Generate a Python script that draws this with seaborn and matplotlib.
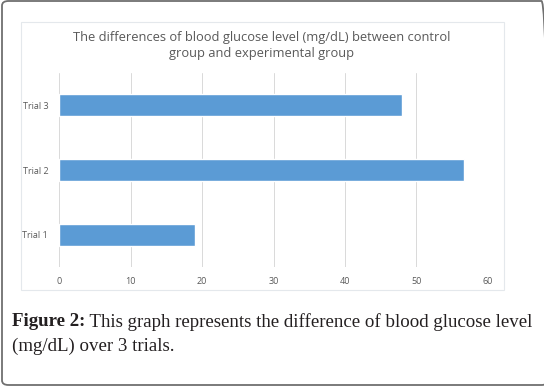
import matplotlib
matplotlib.use('Agg')

import matplotlib.pyplot as plt
import seaborn as sns
import pandas as pd
from matplotlib.patches import Rectangle, FancyBboxPatch

# data
trials = ["Trial 3", "Trial 2", "Trial 1"]
differences = [48.0, 56.7, 19.0]
x_ticks = [0, 10, 20, 30, 40, 50, 60]

title = "The differences of blood glucose level (mg/dL) between control\ngroup and experimental group"
caption_bold = "Figure 2:"
caption_rest = " This graph represents the difference of blood glucose level"
caption_line2 = "(mg/dL) over 3 trials."

df = pd.DataFrame({"trial": trials, "diff": differences})

sns.set_style("white")
plt.rcParams['font.family'] = ['Open Sans', 'DejaVu Sans']

W, H = 544, 387
fig = plt.figure(figsize=(W / 100, H / 100), dpi=100)

# outer rounded frame and inner chart box
fig.patches.append(FancyBboxPatch((2 / W, 2 / H), 546 / W, 384 / H,
                                  boxstyle="round,pad=0,rounding_size=0.012",
                                  transform=fig.transFigure, fill=False,
                                  edgecolor="#707070", linewidth=1.3))
fig.patches.append(Rectangle((21 / W, 1 - 290 / H), 483 / W, 268 / H,
                             transform=fig.transFigure, fill=False,
                             edgecolor="#E4E8EC", linewidth=0.8))

ax = fig.add_axes([59.3 / W, 1 - 267 / H, 428.4 / W, 194 / H])
sns.barplot(data=df, y="trial", x="diff", order=trials, orient="h",
            color="#5B9BD5", saturation=1, width=0.34, ax=ax)

ax.set_xlim(0, 60)
ax.set_ylim(2.5, -0.5)
ax.set_xticks(x_ticks)
ax.xaxis.grid(True, color="#D9D9D9", linewidth=0.7)
ax.set_axisbelow(True)
for s in ax.spines.values():
    s.set_visible(False)
ax.set_xlabel("")
ax.set_ylabel("")
ax.tick_params(axis="both", length=0, labelsize=6.5, labelcolor="#595959")
ax.tick_params(axis="x", pad=7)
ax.tick_params(axis="y", pad=8)

fig.text(261.5 / W, 1 - 45 / H, title, ha="center", va="center",
         fontsize=9.3, color="#595959", linespacing=1.3)

# caption in serif
cap_size = 13.6
t1 = fig.text(12 / W, 1 - 322 / H, caption_bold, ha="left", va="center",
              fontsize=cap_size, fontweight="bold", family="Liberation Serif", color="#231F20")
fig.canvas.draw()
bb = t1.get_window_extent()
fig.text(bb.x1 / W, 1 - 322 / H, caption_rest, ha="left", va="center",
         fontsize=cap_size, family="Liberation Serif", color="#231F20")
fig.text(12 / W, 1 - 346 / H, caption_line2, ha="left", va="center",
         fontsize=cap_size, family="Liberation Serif", color="#231F20")

fig.savefig("out.png", dpi=100)
